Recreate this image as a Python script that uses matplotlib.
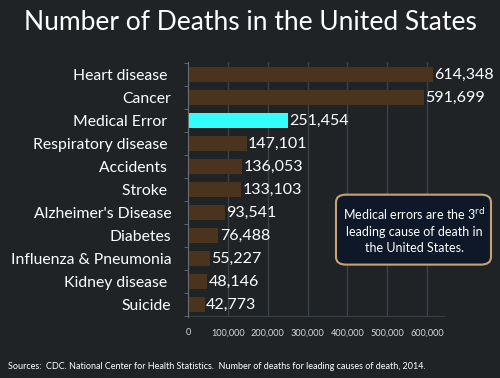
import numpy as np
from matplotlib import pyplot as plt
from matplotlib.patches import FancyBboxPatch

plt.rcParams['font.family'] = ['Lato', 'DejaVu Sans']

causes = ['Heart disease ', 'Cancer', 'Medical Error ', 'Respiratory disease ',
          'Accidents ', 'Stroke ', "Alzheimer's Disease", 'Diabetes',
          'Influenza & Pneumonia', 'Kidney disease ', 'Suicide']
deaths = [614348, 591699, 251454, 147101, 136053, 133103,
          93541, 76488, 55227, 48146, 42773]
highlight = 'Medical Error '
xticks = [0, 100000, 200000, 300000, 400000, 500000, 600000]

bg = '#1f2326'
brown = '#4a341d'
cyan = '#33ffff'

fig = plt.figure(figsize=(5, 3.78), dpi=100, facecolor=bg)
ax = fig.add_axes([0.376, 0.161, 0.514, 0.675], facecolor=bg)

y = np.arange(len(causes))
colors = [cyan if c == highlight else brown for c in causes]
ax.barh(y, deaths, height=0.63, color=colors, zorder=3)

for yi, v in zip(y, deaths):
    ax.text(v + 3000, yi, f'{v:,}', va='center', ha='left', color='white',
            fontsize=11.5, zorder=4)

ax.set_yticks(y)
ax.set_yticklabels(causes, color='white', fontsize=11.3)
ax.set_yticks(np.arange(len(causes) + 1) - 0.5, minor=True)
ax.tick_params(axis='y', which='major', length=0, pad=12)
ax.tick_params(axis='y', which='minor', length=3, color='#6a6e72', direction='out')
ax.set_ylim(len(causes) - 0.45, -0.55)

ax.set_xlim(0, 645000)
ax.set_xticks(xticks)
ax.set_xticklabels([f'{t:,}' for t in xticks], color='#d8d8d8', fontsize=6.6)
ax.tick_params(axis='x', length=0, pad=8)
ax.grid(axis='x', color='#3c4145', linewidth=1, zorder=0)
ax.axhline(len(causes) - 0.45, color='#3c4145', linewidth=1.5, zorder=1)

for s in ['top', 'right', 'bottom']:
    ax.spines[s].set_visible(False)
ax.spines['left'].set_color('#6a6e72')
ax.spines['left'].set_zorder(5)

fig.text(0.5, 0.94, 'Number of Deaths in the United States', ha='center', va='center',
         color='white', fontsize=19)

box = FancyBboxPatch((0.672, 0.3), 0.31, 0.185, boxstyle='round,pad=0,rounding_size=0.02',
                     transform=fig.transFigure, facecolor='#0e1828', edgecolor='#c9a274',
                     linewidth=1.5, zorder=10)
fig.patches.append(box)
fig.text(0.829, 0.392,
         'Medical errors are the 3$^{\\rm rd}$\nleading cause of death in\nthe United States.',
         ha='center', va='center', color='white', fontsize=9, linespacing=1.4, zorder=11)

fig.text(0.016, 0.03, 'Sources:  CDC. National Center for Health Statistics.  '
         'Number of deaths for leading causes of death, 2014.',
         ha='left', va='center', color='white', fontsize=6.5)

fig.savefig('out.png', dpi=100, facecolor=bg)
